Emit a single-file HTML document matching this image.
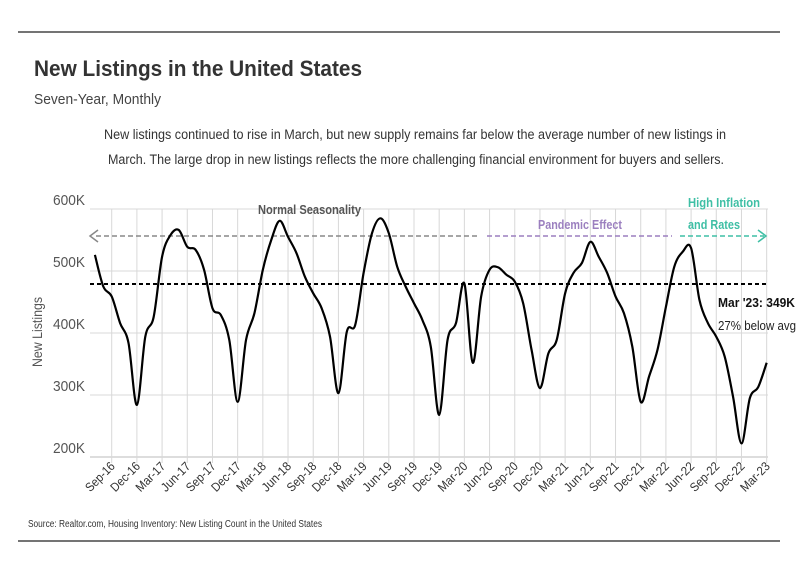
<!DOCTYPE html>
<html><head><meta charset="utf-8"><style>
body{margin:0;background:#fff;width:801px;height:575px;overflow:hidden;font-family:"Liberation Sans",sans-serif}
</style></head><body>
<svg id="c" width="801" height="575" style="position:absolute;left:0;top:0">
<line x1="18" y1="32" x2="780" y2="32" stroke="#222" stroke-width="1.2"/>
<line x1="18" y1="541" x2="780" y2="541" stroke="#222" stroke-width="1.2"/>
<text x="34" y="76" font-size="22" font-weight="bold" fill="#333" textLength="328" lengthAdjust="spacingAndGlyphs">New Listings in the United States</text>
<text x="34" y="104" font-size="15" fill="#444" textLength="127" lengthAdjust="spacingAndGlyphs">Seven-Year, Monthly</text>
<text x="104" y="139" font-size="13.5" fill="#333" textLength="622" lengthAdjust="spacingAndGlyphs">New listings continued to rise in March, but new supply remains far below the average number of new listings in</text>
<text x="108" y="164" font-size="13.5" fill="#333" textLength="616" lengthAdjust="spacingAndGlyphs">March. The large drop in new listings reflects the more challenging financial environment for buyers and sellers.</text>
<g id="grid"></g>
<g id="ann">
<line x1="96" y1="236" x2="478" y2="236" stroke="#888" stroke-width="1.5" stroke-dasharray="5,3"/>
<polyline points="98,230 90,236 98,242" fill="none" stroke="#888" stroke-width="1.5"/>
<line x1="487" y1="236" x2="672" y2="236" stroke="#9b7fbf" stroke-width="1.5" stroke-dasharray="5,3"/>
<line x1="680" y1="236" x2="764" y2="236" stroke="#3fbfa5" stroke-width="1.5" stroke-dasharray="5,3"/>
<polyline points="758,230 766,236 758,242" fill="none" stroke="#3fbfa5" stroke-width="1.5"/>
<text x="258" y="214" font-size="13" font-weight="bold" fill="#555" textLength="103" lengthAdjust="spacingAndGlyphs">Normal Seasonality</text>
<text x="538" y="229" font-size="13" font-weight="bold" fill="#9b7fbf" textLength="84" lengthAdjust="spacingAndGlyphs">Pandemic Effect</text>
<text x="688" y="207" font-size="13" font-weight="bold" fill="#3fbfa5" textLength="72" lengthAdjust="spacingAndGlyphs">High Inflation</text>
<text x="688" y="229" font-size="13" font-weight="bold" fill="#3fbfa5" textLength="52" lengthAdjust="spacingAndGlyphs">and Rates</text>
</g>
<g id="plot"></g>
<text x="718" y="307" font-size="13" font-weight="bold" fill="#111" textLength="77" lengthAdjust="spacingAndGlyphs">Mar '23: 349K</text>
<text x="718" y="330" font-size="13" fill="#222" textLength="78" lengthAdjust="spacingAndGlyphs">27% below avg</text>
<text transform="translate(42,332) rotate(-90)" font-size="14" fill="#555" text-anchor="middle" textLength="70" lengthAdjust="spacingAndGlyphs">New Listings</text>
<text x="28" y="527" font-size="10" fill="#333" textLength="294" lengthAdjust="spacingAndGlyphs">Source:  Realtor.com, Housing Inventory: New Listing Count in the United States</text>
</svg>
<script>
const values=[526,475,459,416,384,284,394,426,523,558,566,539,534,502,440,429,389,289,389,432,502,550,581,555,529,491,464,440,394,303,402,413,497,561,585,561,507,475,448,421,378,268,389,416,480,352,459,502,506,494,483,448,373,311,367,389,464,497,513,547,523,497,459,432,378,289,330,373,442,507,531,537,453,416,394,362,297,222,295,313,352];
const yTicks=[200,300,400,500,600];
const tickLabels=["Sep-16","Dec-16","Mar-17","Jun-17","Sep-17","Dec-17","Mar-18","Jun-18","Sep-18","Dec-18","Mar-19","Jun-19","Sep-19","Dec-19","Mar-20","Jun-20","Sep-20","Dec-20","Mar-21","Jun-21","Sep-21","Dec-21","Mar-22","Jun-22","Sep-22","Dec-22","Mar-23"];
const average=[479];
const NS='http://www.w3.org/2000/svg';
const X=i=>111.7+(i-2)*8.397;
const Y=v=>209+(600-v)*0.62;
const grid=document.getElementById('grid'),plot=document.getElementById('plot');
function mk(tag,attrs,parent){const e=document.createElementNS(NS,tag);for(const k in attrs)e.setAttribute(k,attrs[k]);parent.appendChild(e);return e;}
yTicks.forEach(v=>{
 const l=mk('line',{x1:90,x2:768,y1:Y(v),y2:Y(v),stroke:v===200?'#bbb':'#d8d8d8','stroke-width':1},grid);
 
 
 const t=mk('text',{x:53,y:Y(v)-4,'font-size':15,fill:'#555',textLength:32,lengthAdjust:'spacingAndGlyphs'},grid);
 t.textContent=v+'K';
 
 
});
tickLabels.forEach((s,k)=>{
 const x=X(2+k*3);
 const l=mk('line',{x1:x,x2:x,y1:Y(600),y2:Y(200)+6,stroke:'#d8d8d8','stroke-width':1},grid);
 
 
 const t=mk('text',{transform:`translate(${x+4},${Y(200)+10}) rotate(-45)`,'font-size':12.5,fill:'#333','text-anchor':'end',textLength:36,lengthAdjust:'spacingAndGlyphs'},grid);
 t.textContent=s;
 
 
});
const av=mk('line',{x1:90,x2:768,y1:Y(average[0]),y2:Y(average[0]),stroke:'#000','stroke-width':2,'stroke-dasharray':'4,3'},plot);


const pts=values.map((v,i)=>[X(i),Y(v)]);
let d='M'+pts[0][0]+','+pts[0][1];
for(let i=0;i<pts.length-1;i++){
 const p0=pts[i-1]||pts[i],p1=pts[i],p2=pts[i+1],p3=pts[i+2]||p2;
 const c1=[p1[0]+(p2[0]-p0[0])/6,p1[1]+(p2[1]-p0[1])/6],c2=[p2[0]-(p3[0]-p1[0])/6,p2[1]-(p3[1]-p1[1])/6];
 d+=` C${c1[0]},${c1[1]} ${c2[0]},${c2[1]} ${p2[0]},${p2[1]}`;
}
const path=mk('path',{d:d,fill:'none',stroke:'#000','stroke-width':2.2},plot);


</script>
</body></html>
